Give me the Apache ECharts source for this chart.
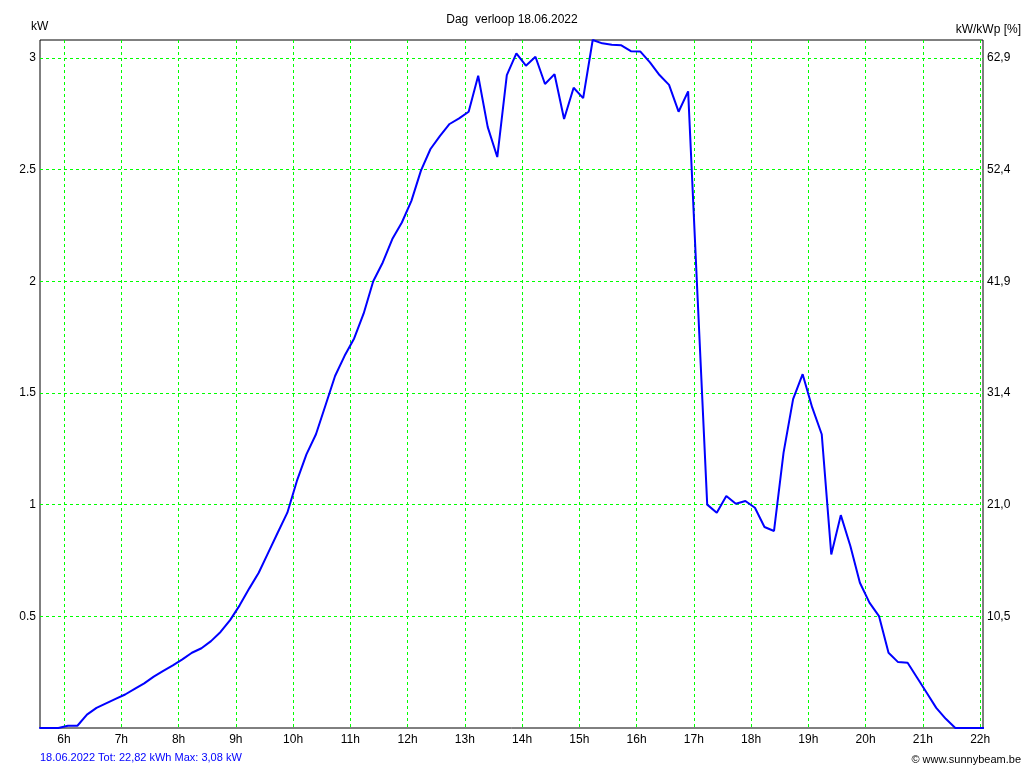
<!DOCTYPE html>
<html>
<head>
<meta charset="utf-8">
<script src="https://cdn.jsdelivr.net/npm/echarts@6/dist/echarts.min.js"></script>
<style>
html,body{margin:0;padding:0;background:#fff;}
#chart{width:1024px;height:768px;}
</style>
</head>
<body>
<div id="chart"></div>
<script>
// ---- data ----
const times = ['5:34','5:44','5:54','6:04','6:14','6:24','6:34','6:44','6:54',
  '7:04','7:14','7:24','7:34','7:44','7:54','8:04','8:14','8:24','8:34','8:44','8:54',
  '9:04','9:14','9:24','9:34','9:44','9:54','10:04','10:14','10:24','10:34','10:44','10:54',
  '11:04','11:14','11:24','11:34','11:44','11:54','12:04','12:14','12:24','12:34','12:44','12:54',
  '13:04','13:14','13:24','13:34','13:44','13:54','14:04','14:14','14:24','14:34','14:44','14:54',
  '15:04','15:14','15:24','15:34','15:44','15:54','16:04','16:14','16:24','16:34','16:44','16:54',
  '17:04','17:14','17:24','17:34','17:44','17:54','18:04','18:14','18:24','18:34','18:44','18:54',
  '19:04','19:14','19:24','19:34','19:44','19:54','20:04','20:14','20:24','20:34','20:44','20:54',
  '21:04','21:14','21:24','21:34','21:44','21:54','22:04'];
const powerKW = [0,0,0,0.01,0.01,0.06,0.09,0.11,0.13,
  0.15,0.175,0.2,0.23,0.256,0.28,0.307,0.337,0.357,0.389,0.43,0.483,
  0.549,0.624,0.695,0.785,0.875,0.964,1.106,1.225,1.315,1.445,1.576,1.666,
  1.744,1.856,2.0,2.084,2.189,2.263,2.36,2.495,2.592,2.651,2.704,2.729,
  2.759,2.92,2.69,2.556,2.923,3.02,2.965,3.005,2.883,2.927,2.726,2.866,
  2.82,3.08,3.065,3.059,3.056,3.03,3.028,2.98,2.923,2.879,2.759,2.85,
  1.92,1.0,0.964,1.039,1.004,1.016,0.986,0.90,0.882,1.233,1.472,1.584,
  1.435,1.315,0.777,0.953,0.815,0.65,0.561,0.501,0.337,0.295,0.292,0.225,
  0.158,0.09,0.041,0,0,0,0];
const hourTicks = [6,7,8,9,10,11,12,13,14,15,16,17,18,19,20,21,22];
const leftTickValues = [0.5,1,1.5,2,2.5,3];
const leftTickLabels = ['0.5','1','1.5','2','2.5','3'];
const rightTickLabels = ['10,5','21,0','31,4','41,9','52,4','62,9'];
const xMin = 5.58, xMax = 22.05, yMax = 3.08;
const titleText = 'Dag  verloop 18.06.2022';
const footerText = '18.06.2022 Tot: 22,82 kWh Max: 3,08 kW';
const creditText = '\u00A9 www.sunnybeam.be';

// ---- build ----
function toHours(s){const p=s.split(':');return +p[0] + (+p[1])/60;}
const seriesData = times.map((t,i)=>[toHours(t), powerKW[i]]);
function yLabel(labels){
  return function(v){
    for(let i=0;i<leftTickValues.length;i++){ if(Math.abs(v-leftTickValues[i])<1e-6) return labels[i]; }
    return '';
  };
}
const font = 'Liberation Sans';
const gridLine = {color:'#00ff00',type:[3,3],width:1};
function ts(size,color){return {fontFamily:font,fontSize:size,fontWeight:'normal',color:color};}
const chart = echarts.init(document.getElementById('chart'), null, {renderer:'canvas'});
chart.setOption({
  animation:false,
  backgroundColor:'#ffffff',
  textStyle:{fontFamily:font},
  title:[
    {text:titleText,left:'center',top:14,padding:0,textStyle:ts(12,'#000')},
    {text:'kW',left:31,top:21,padding:0,textStyle:ts(12,'#000')},
    {text:'kW/kWp [%]',right:3,top:24,padding:0,textStyle:ts(12,'#000')},
    {text:footerText,left:40,top:752,padding:0,textStyle:ts(11,'#0000ff')},
    {text:creditText,right:3,top:754,padding:0,textStyle:ts(11,'#000')}
  ],
  grid:{left:40,right:41,top:40,bottom:40,show:true,borderColor:'#000',borderWidth:1,backgroundColor:'#fff',containLabel:false},
  xAxis:{
    type:'value',min:xMin,max:xMax,
    axisLine:{show:false},
    axisTick:{show:false,customValues:hourTicks},
    splitLine:{show:true,showMinLine:true,showMaxLine:true,lineStyle:gridLine},
    axisLabel:{customValues:hourTicks,formatter:function(v){return v+'h';},
      color:'#000',fontSize:12,fontFamily:font,margin:6}
  },
  yAxis:[
    {type:'value',min:0,max:yMax,interval:0.5,position:'left',
      axisLine:{show:false},axisTick:{show:false},
      splitLine:{show:true,showMinLine:false,showMaxLine:false,lineStyle:gridLine},
      axisLabel:{formatter:yLabel(leftTickLabels),color:'#000',fontSize:12,fontFamily:font,margin:4,showMaxLabel:false}},
    {type:'value',min:0,max:yMax,interval:0.5,position:'right',
      axisLine:{show:false},axisTick:{show:false},splitLine:{show:false},
      axisLabel:{formatter:yLabel(rightTickLabels),color:'#000',fontSize:12,fontFamily:font,margin:4,showMaxLabel:false}}
  ],
  series:[{
    type:'line',data:seriesData,showSymbol:false,symbol:'none',
    lineStyle:{color:'#0000ff',width:2},
    z:5
  }]
});
</script>
</body>
</html>
